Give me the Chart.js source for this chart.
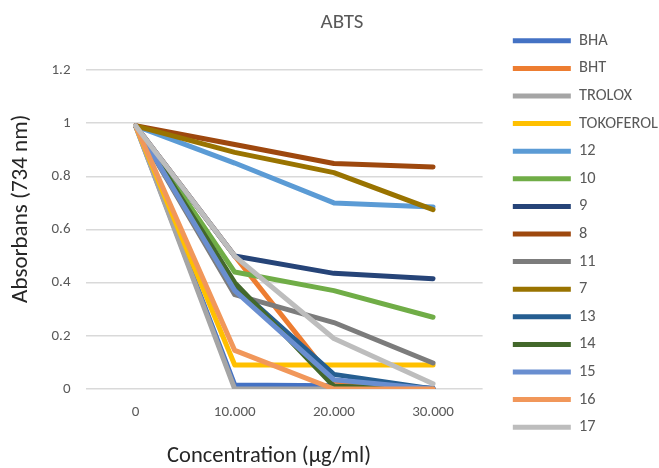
<!DOCTYPE html>
<html>
<head>
<meta charset="utf-8">
<script src="https://cdn.jsdelivr.net/npm/chart.js@4"></script>
<style>
html,body{margin:0;padding:0;background:#fff;}
#wrap{width:659px;height:468px;}
</style>
</head>
<body>
<div id="wrap"><canvas id="c" width="659" height="468"></canvas></div>
<script>
const categories = ['0', '10.000', '20.000', '30.000'];
const seriesNames = ['BHA','BHT','TROLOX','TOKOFEROL','12','10','9','8','11','7','13','14','15','16','17'];
const BHA       = [0.99, 0.015, 0.012, 0.004];
const BHT       = [0.99, 0.50, 0.03, 0.0];
const TROLOX    = [0.99, 0.0, 0.0, 0.0];
const TOKOFEROL = [0.99, 0.09, 0.09, 0.09];
const s12 = [0.99, 0.85, 0.70, 0.685];
const s10 = [0.99, 0.44, 0.37, 0.27];
const s9  = [0.99, 0.50, 0.435, 0.415];
const s8  = [0.99, 0.92, 0.848, 0.835];
const s11 = [0.99, 0.355, 0.25, 0.098];
const s7  = [0.99, 0.89, 0.814, 0.675];
const s13 = [0.99, 0.39, 0.055, 0.0];
const s14 = [0.99, 0.40, 0.01, 0.0];
const s15 = [0.99, 0.37, 0.035, 0.0];
const s16 = [0.99, 0.145, 0.0, 0.0];
const s17 = [0.99, 0.50, 0.19, 0.02];
const seriesValues = [BHA,BHT,TROLOX,TOKOFEROL,s12,s10,s9,s8,s11,s7,s13,s14,s15,s16,s17];
const seriesColors = ['#4472C4','#ED7D31','#A5A5A5','#FFC000','#5B9BD5','#70AD47','#264478','#9E480E','#7C7C7C','#997300','#255E91','#43682B','#698ED0','#F1975A','#BDBDBD'];
const yTicks = ['0','0.2','0.4','0.6','0.8','1','1.2'];

const FONT = "Carlito, Lato, 'Liberation Sans', sans-serif";

const datasets = seriesNames.map((n,i)=>({
  label: n,
  data: seriesValues[i],
  borderColor: seriesColors[i],
  backgroundColor: seriesColors[i],
  borderWidth: 5,
  borderCapStyle: 'round',
  borderJoinStyle: 'round',
  pointRadius: 0,
  pointHoverRadius: 0,
  pointStyle: 'line',
  fill: false,
  tension: 0,
  order: seriesNames.length - i
}));

const titleShift = {
  id: 'titleShift',
  afterLayout(chart) {
    const t = chart.titleBlock;
    if (!t) return;
    const d = 342 - (t.left + t.right) / 2;
    t.left += d; t.right += d;
  }
};

new Chart(document.getElementById('c'), {
  type: 'line',
  data: { labels: categories, datasets },
  plugins: [titleShift],
  options: {
    responsive: false,
    animation: false,
    layout: { padding: { left: 0, right: -9, top: 0, bottom: 0 } },
    plugins: {
      title: {
        display: true, text: 'ABTS', color: '#595959', fullSize: false,
        font: { family: FONT, size: 21, weight: 'normal', lineHeight: 1.2 },
        padding: { top: 10.4, bottom: 34.4 }
      },
      legend: {
        position: 'right',
        maxWidth: 175,
        labels: {
          usePointStyle: true,
          pointStyle: 'line',
          pointStyleWidth: 58,
          boxHeight: 5,
          color: '#595959',
          padding: 11.2,
          font: { family: FONT, size: 16.4 },
          sort: (a,b) => a.datasetIndex - b.datasetIndex
        }
      },
      tooltip: { enabled: false }
    },
    scales: {
      x: {
        offset: true,
        grid: { display: false, drawTicks: false },
        border: { display: false },
        ticks: { color: '#595959', font: { family: FONT, size: 15, lineHeight: 1 }, padding: 15.5 },
        title: { display: true, text: 'Concentration (µg/ml)      ', color: '#262626',
          font: { family: FONT, size: 22.5, lineHeight: 1 }, padding: { top: 10.5, bottom: 0 } }
      },
      y: {
        min: 0, max: 1.2,
        ticks: { stepSize: 0.2, color: '#595959', font: { family: FONT, size: 15 }, padding: 15.5,
          callback: (v) => yTicks[Math.round(v/0.2)] },
        grid: { color: '#D9D9D9', lineWidth: 1.4, drawTicks: false },
        border: { display: false },
        title: { display: true, text: '        Absorbans (734 nm)', color: '#262626',
          font: { family: FONT, size: 23, lineHeight: 1.2 }, padding: { top: 7, bottom: 1.4 } }
      },
      spacer: {
        type: 'linear',
        position: 'right',
        display: true,
        grid: { display: false, drawTicks: false },
        border: { display: false },
        ticks: { display: false },
        afterFit(scale) { scale.width = 19; }
      }
    }
  }
});
</script>
</body>
</html>
